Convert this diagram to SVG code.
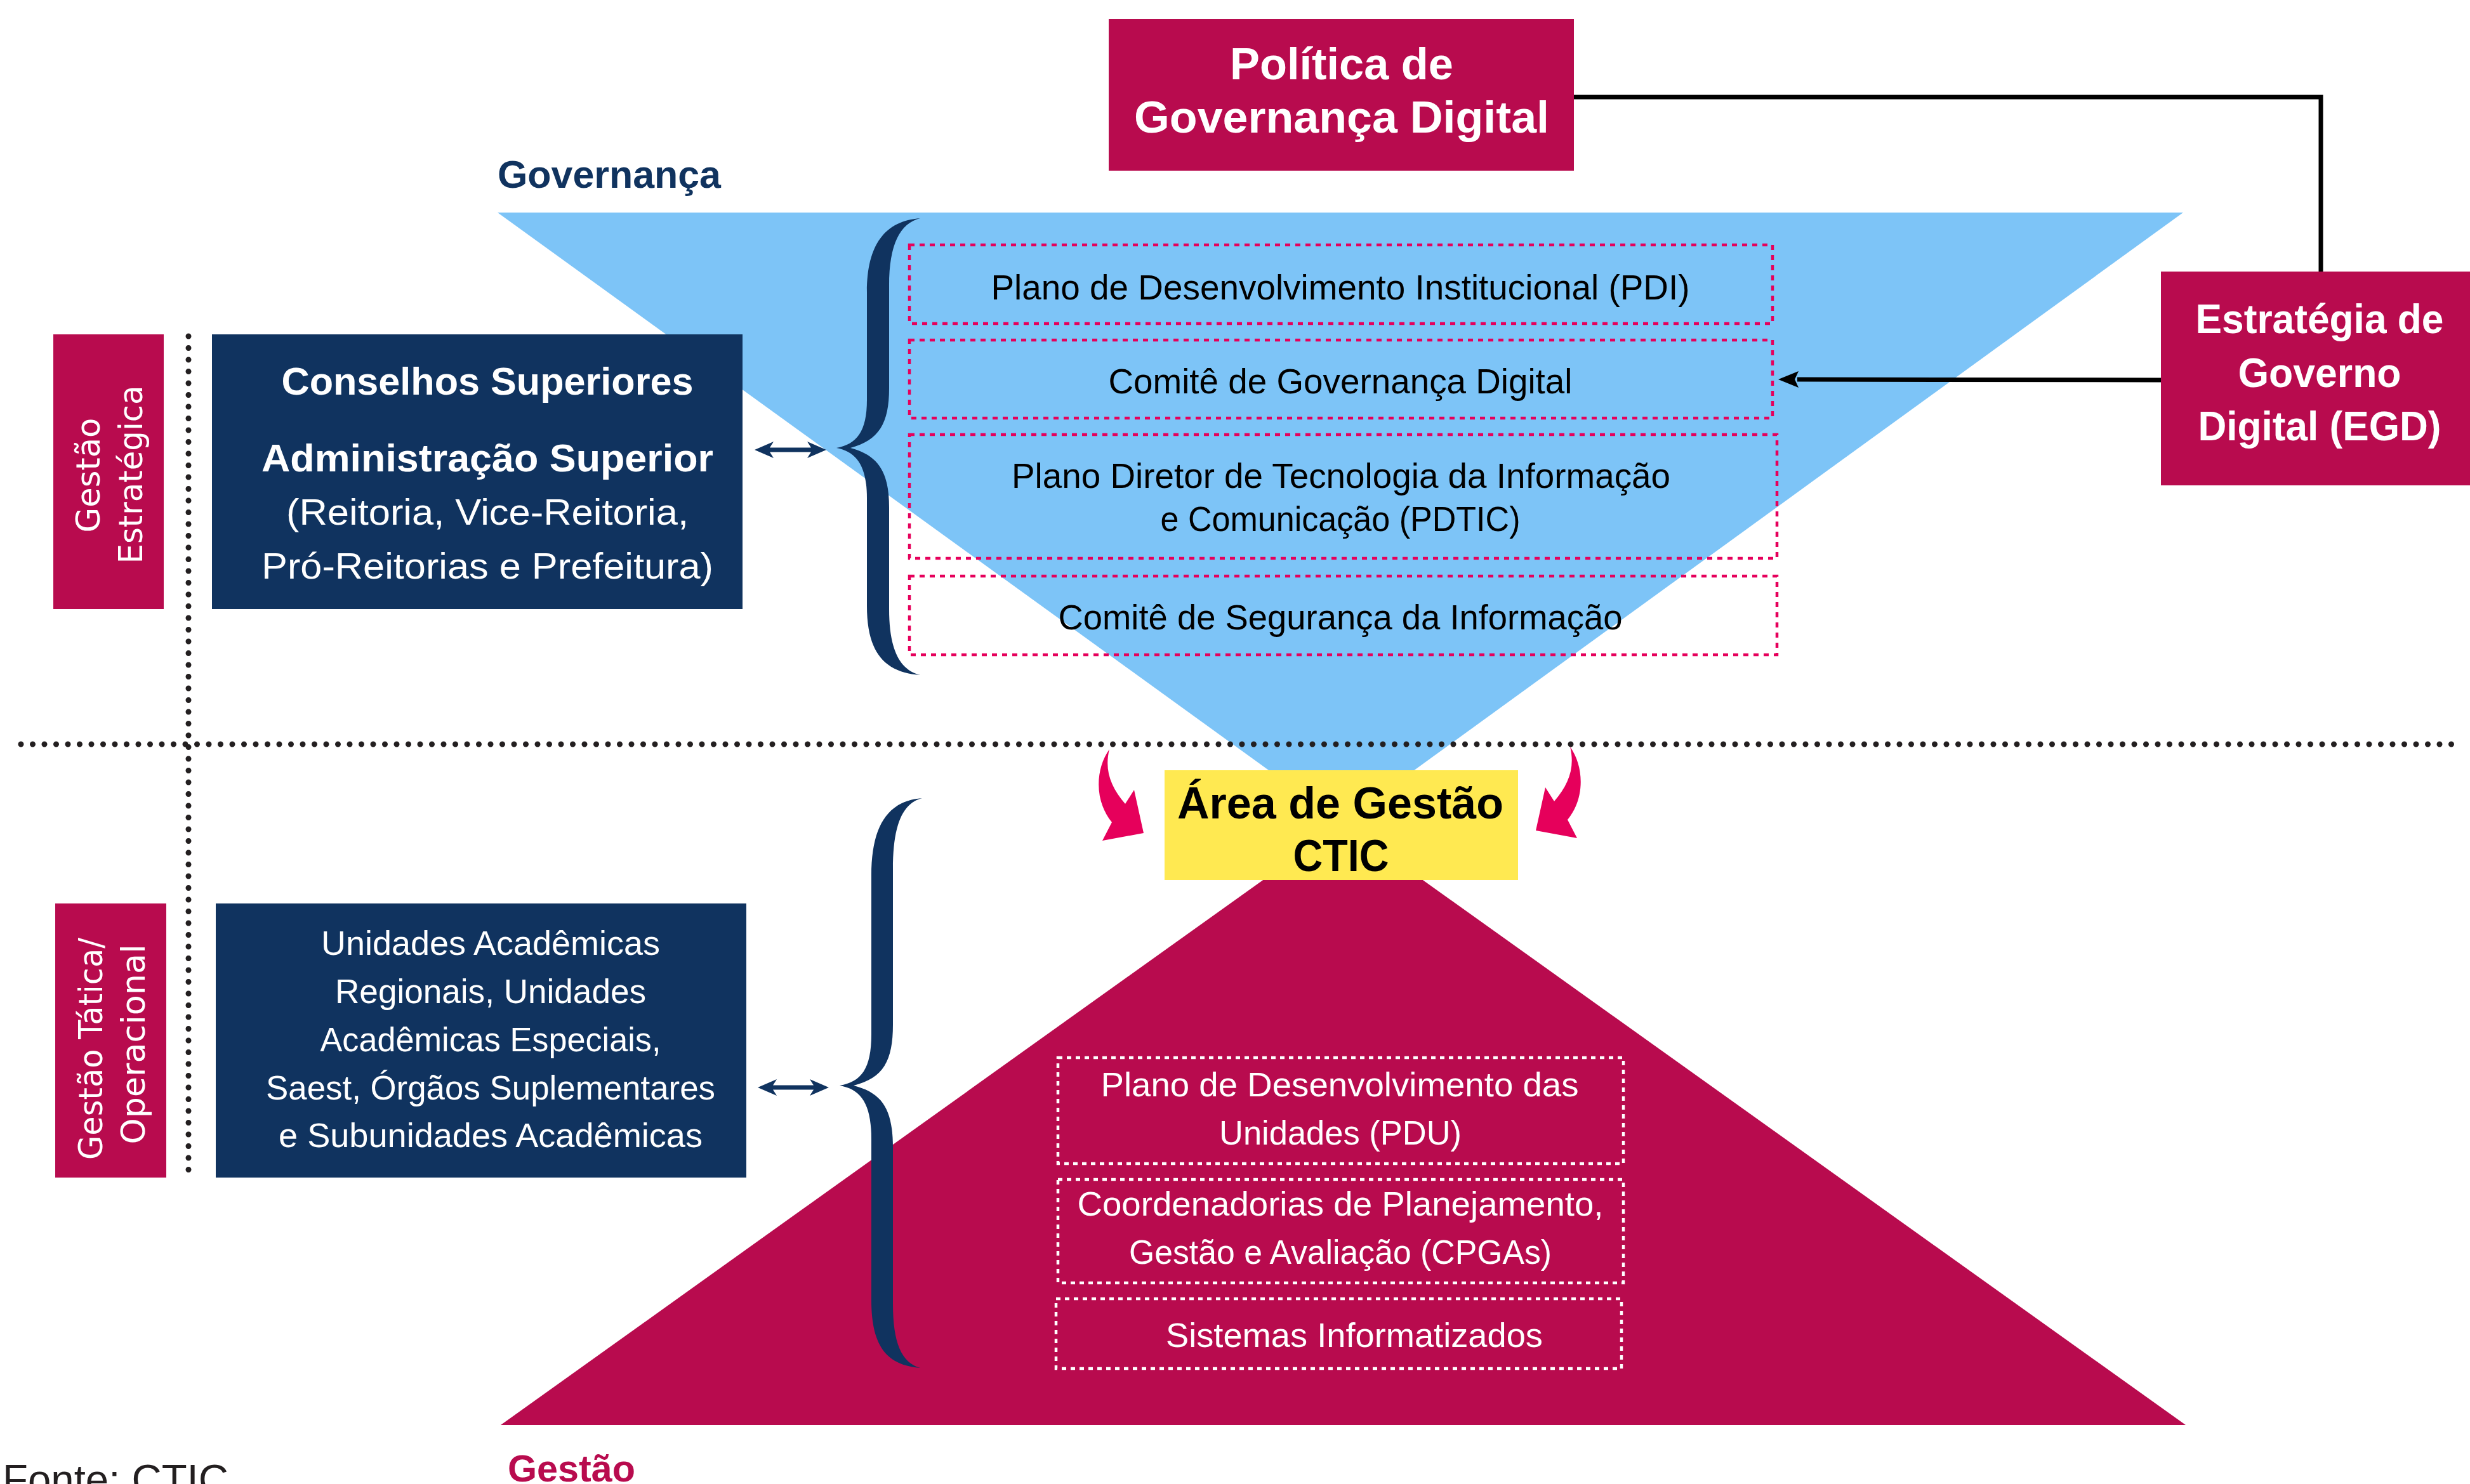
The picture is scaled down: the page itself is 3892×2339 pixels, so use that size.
<svg xmlns="http://www.w3.org/2000/svg" width="3892" height="2339" viewBox="0 0 3892 2339">
<style>
.t{font-family:"Liberation Sans",Arial,sans-serif}
.b{font-weight:bold}
.w{fill:#ffffff}
.k{fill:#000000}
.rot{font-family:"DejaVu Sans",Verdana,sans-serif;fill:#ffffff;font-size:52px}
.pd{fill:none;stroke:#e6005b;stroke-width:4.5;stroke-dasharray:8 8}
.wd{fill:none;stroke:#ffffff;stroke-width:4.5;stroke-dasharray:7 7}
.navy{fill:#10335f}
.red{fill:#b80b4e}
.dots{fill:none;stroke:#231f20;stroke-width:9;stroke-linecap:round;stroke-dasharray:0 18.5}
.ln{fill:none;stroke:#000000;stroke-width:7}
</style>
<defs>
<marker id="ah" viewBox="0 0 10 10" refX="9" refY="5" markerWidth="4.5" markerHeight="4" orient="auto" markerUnits="strokeWidth">
<path d="M0,0 L10,5 L0,10 L2.5,5 Z" fill="#000"/>
</marker>
<path id="pinkArrow" d="M1748,1181 C1726,1212 1724,1262 1752,1296 L1737,1325 L1802,1313 L1787,1245 L1773,1267 C1750,1240 1740,1214 1748,1181 Z"/>
</defs>
<rect width="3892" height="2339" fill="#ffffff"/>

<g id="triangles">
<polygon points="784,335 3440,335 2114,1297" fill="#7dc4f7"/>
<polygon points="789,2246 3444,2246 2116,1297" fill="#b80b4e"/>
</g>

<g id="guides">
<line class="dots" x1="33" y1="1173" x2="3868" y2="1173"/>
<line class="dots" x1="297" y1="530" x2="297" y2="1853"/>
</g>

<g id="label-governanca">
<text class="t b" x="784" y="296" font-size="62" fill="#10335f" textLength="352" lengthAdjust="spacingAndGlyphs">Governança</text>
</g>

<g id="label-gestao">
<text class="t b" x="800" y="2335" font-size="60" fill="#b80b4e" textLength="201" lengthAdjust="spacingAndGlyphs">Gestão</text>
</g>

<g id="fonte">
<text class="t" x="4" y="2354" font-size="65" fill="#231f20" textLength="356" lengthAdjust="spacingAndGlyphs">Fonte: CTIC</text>
</g>

<g id="politica">
<rect x="1747" y="30" width="733" height="239" class="red"/>
<text class="t b w" x="2114" y="125" font-size="71" text-anchor="middle" textLength="352" lengthAdjust="spacingAndGlyphs">Política de</text>
<text class="t b w" x="2114" y="209" font-size="71" text-anchor="middle" textLength="654" lengthAdjust="spacingAndGlyphs">Governança Digital</text>
</g>

<g id="egd">
<rect x="3405" y="428" width="487" height="337" class="red"/>
<text class="t b w" x="3655" y="525" font-size="64" text-anchor="middle" textLength="391" lengthAdjust="spacingAndGlyphs">Estratégia de</text>
<text class="t b w" x="3655" y="610" font-size="64" text-anchor="middle" textLength="257" lengthAdjust="spacingAndGlyphs">Governo</text>
<text class="t b w" x="3655" y="694" font-size="64" text-anchor="middle" textLength="383" lengthAdjust="spacingAndGlyphs">Digital (EGD)</text>
</g>

<g id="gestao-estrategica">
<rect x="84" y="527" width="174" height="433" class="red"/>
<text class="rot" transform="translate(157,749) rotate(-90)" text-anchor="middle" textLength="181" lengthAdjust="spacingAndGlyphs">Gestão</text>
<text class="rot" transform="translate(224,748) rotate(-90)" text-anchor="middle" textLength="281" lengthAdjust="spacingAndGlyphs">Estratégica</text>
</g>

<g id="gestao-tatica">
<rect x="87" y="1424" width="175" height="432" class="red"/>
<text class="rot" transform="translate(161,1653) rotate(-90)" text-anchor="middle" textLength="350" lengthAdjust="spacingAndGlyphs">Gestão Tática/</text>
<text class="rot" transform="translate(228,1646) rotate(-90)" text-anchor="middle" textLength="315" lengthAdjust="spacingAndGlyphs">Operacional</text>
</g>

<g id="conselhos">
<rect x="334" y="527" width="836" height="433" class="navy"/>
<text class="t b w" x="768" y="622" font-size="61" text-anchor="middle" textLength="649" lengthAdjust="spacingAndGlyphs">Conselhos Superiores</text>
<text class="t b w" x="768" y="743" font-size="61" text-anchor="middle" textLength="712" lengthAdjust="spacingAndGlyphs">Administração Superior</text>
<text class="t w" x="768" y="827" font-size="58" text-anchor="middle" textLength="634" lengthAdjust="spacingAndGlyphs">(Reitoria, Vice-Reitoria,</text>
<text class="t w" x="768" y="912" font-size="58" text-anchor="middle" textLength="712" lengthAdjust="spacingAndGlyphs">Pró-Reitorias e Prefeitura)</text>
</g>

<g id="unidades">
<rect x="340" y="1424" width="836" height="432" class="navy"/>
<text class="t w" x="773" y="1505" font-size="53" text-anchor="middle" textLength="534" lengthAdjust="spacingAndGlyphs">Unidades Acadêmicas</text>
<text class="t w" x="773" y="1581" font-size="53" text-anchor="middle" textLength="490" lengthAdjust="spacingAndGlyphs">Regionais, Unidades</text>
<text class="t w" x="773" y="1657" font-size="53" text-anchor="middle" textLength="537" lengthAdjust="spacingAndGlyphs">Acadêmicas Especiais,</text>
<text class="t w" x="773" y="1733" font-size="53" text-anchor="middle" textLength="708" lengthAdjust="spacingAndGlyphs">Saest, Órgãos Suplementares</text>
<text class="t w" x="773" y="1808" font-size="53" text-anchor="middle" textLength="668" lengthAdjust="spacingAndGlyphs">e Subunidades Acadêmicas</text>
</g>

<g id="brace-top">
<path class="navy" d="M1450,344 C1395,348 1366,385 1366,460 L1366,630 C1366,680 1350,700 1318,706 C1350,712 1366,735 1366,785 L1366,955 C1366,1030 1395,1060 1450,1064 C1418,1056 1401,1025 1401,960 L1401,800 C1401,745 1385,718 1340,706 C1385,694 1401,667 1401,612 L1401,450 C1401,385 1418,352 1450,344 Z"/>
</g>
<g id="brace-bottom">
<path class="navy" d="M1453,1258 C1400,1262 1373,1300 1373,1380 L1373,1630 C1373,1685 1357,1705 1323,1711 C1357,1717 1373,1740 1373,1795 L1373,2050 C1373,2125 1400,2152 1450,2156 C1420,2148 1407,2115 1407,2055 L1407,1810 C1407,1750 1392,1723 1345,1711 C1392,1699 1407,1672 1407,1615 L1407,1370 C1407,1300 1422,1266 1453,1258 Z"/>
</g>

<g id="pdi">
<rect x="1433" y="386" width="1360" height="124" class="pd"/>
<text class="t k" x="2112" y="472" font-size="56" text-anchor="middle" textLength="1101" lengthAdjust="spacingAndGlyphs">Plano de Desenvolvimento Institucional (PDI)</text>
</g>
<g id="comite-governanca">
<rect x="1433" y="536" width="1360" height="123" class="pd"/>
<text class="t k" x="2112" y="620" font-size="56" text-anchor="middle" textLength="731" lengthAdjust="spacingAndGlyphs">Comitê de Governança Digital</text>
</g>
<g id="pdtic">
<rect x="1433" y="685" width="1367" height="195" class="pd"/>
<text class="t k" x="2113" y="769" font-size="56" text-anchor="middle" textLength="1038" lengthAdjust="spacingAndGlyphs">Plano Diretor de Tecnologia da Informação</text>
<text class="t k" x="2112" y="837" font-size="56" text-anchor="middle" textLength="567" lengthAdjust="spacingAndGlyphs">e Comunicação (PDTIC)</text>
</g>
<g id="comite-seguranca">
<rect x="1433" y="908" width="1367" height="124" class="pd"/>
<text class="t k" x="2112" y="992" font-size="56" text-anchor="middle" textLength="889" lengthAdjust="spacingAndGlyphs">Comitê de Segurança da Informação</text>
</g>

<g id="area-gestao">
<rect x="1835" y="1214" width="557" height="173" fill="#ffe951"/>
<text class="t b k" x="2112" y="1290" font-size="70" text-anchor="middle" textLength="514" lengthAdjust="spacingAndGlyphs">Área de Gestão</text>
<text class="t b k" x="2113" y="1373" font-size="70" text-anchor="middle" textLength="151" lengthAdjust="spacingAndGlyphs">CTIC</text>
</g>

<g id="pdu">
<rect x="1667" y="1667" width="891" height="167" class="wd"/>
<text class="t w" x="2111" y="1728" font-size="53" text-anchor="middle" textLength="753" lengthAdjust="spacingAndGlyphs">Plano de Desenvolvimento das</text>
<text class="t w" x="2112" y="1804" font-size="53" text-anchor="middle" textLength="382" lengthAdjust="spacingAndGlyphs">Unidades (PDU)</text>
</g>
<g id="cpgas">
<rect x="1667" y="1859" width="891" height="163" class="wd"/>
<text class="t w" x="2112" y="1916" font-size="53" text-anchor="middle" textLength="829" lengthAdjust="spacingAndGlyphs">Coordenadorias de Planejamento,</text>
<text class="t w" x="2112" y="1992" font-size="53" text-anchor="middle" textLength="666" lengthAdjust="spacingAndGlyphs">Gestão e Avaliação (CPGAs)</text>
</g>
<g id="sistemas">
<rect x="1664" y="2047" width="891" height="110" class="wd"/>
<text class="t w" x="2134" y="2123" font-size="53" text-anchor="middle" textLength="594" lengthAdjust="spacingAndGlyphs">Sistemas Informatizados</text>
</g>

<g id="connectors">
<polyline class="ln" points="2480,153 3657,153 3657,428"/>
<line class="ln" x1="3405" y1="599" x2="2832" y2="598"/>
<path d="M2802,598 L2834,585 L2828,598 L2834,611 Z" fill="#000"/>
<path class="navy" d="M1189,709 L1219,696 L1213,705.5 L1278,705.5 L1272,696 L1302,709 L1272,722 L1278,712.5 L1213,712.5 L1219,722 Z"/>
<path class="navy" d="M1194,1714 L1224,1701 L1218,1710.5 L1282,1710.5 L1276,1701 L1306,1714 L1276,1727 L1282,1717.5 L1218,1717.5 L1224,1727 Z"/>
<use href="#pinkArrow" fill="#e6005b"/>
<use href="#pinkArrow" fill="#e6005b" transform="translate(4222,-4) scale(-1,1)"/>
</g>
</svg>
